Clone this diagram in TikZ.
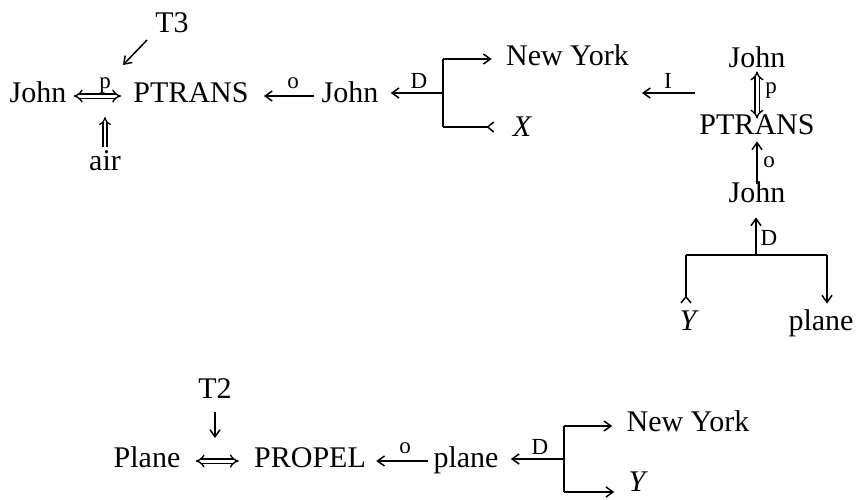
\documentclass[tikz,border=0pt]{standalone}
\usepackage{fontspec}
\setmainfont{Liberation Serif}
\usetikzlibrary{arrows.meta}
\begin{document}
\begin{tikzpicture}[x=0.5pt,y=-0.5pt,
  lbl/.style={font=\fontsize{15}{16}\selectfont, inner sep=0pt, anchor=base, text height=0.7em, text depth=0.1em},
  sm/.style={font=\fontsize{11.5}{12}\selectfont, inner sep=0pt, anchor=base},
  arr/.style={line width=0.75pt, -{Straight Barb[length=3.5pt,width=5pt]}},
  rarr/.style={line width=0.75pt, -{Straight Barb[length=3pt,width=5pt,reversed]}},
  ln/.style={line width=0.75pt},
  dbl/.style={line width=0.7pt, double distance=1.5pt, {Implies}-{Implies}},
  sdbl/.style={line width=0.6pt, double distance=1.4pt, -{Implies}},
]
\useasboundingbox (0,0) rectangle (858,499);

% ---------- top-left structure ----------
\node[lbl] (T3) at (172,32) {T3};
\node[lbl] (John1) at (38,102) {John};
\node[lbl] (PT1) at (191,102) {PTRANS};
\node[lbl] (air) at (105,170) {air};
\node[sm] (p1) at (105,88) {p};
\coordinate (t3s) at (147,40);
\coordinate (t3e) at (123,65);
\coordinate (pin) at (105,117);
\draw[arr] (t3s) -- (t3e);
\draw[dbl, shorten <=3.5pt, shorten >=6pt] (John1.east) -- (PT1.west);
\draw[sdbl, shorten <=4.5pt] (air.north) -- (pin);

\node[lbl] (John2) at (350,102) {John};
\node[sm] (o1) at (293,88) {o};
\draw[arr, shorten <=3.5pt, shorten >=7.5pt] (John2.west) -- (PT1.east);

\coordinate (br1) at (443,93);
\coordinate (br1t) at (443,59);
\coordinate (br1b) at (443,127);
\node[sm] (D1) at (419,88) {D};
\node[lbl] (NY1) at (567.5,65) {New York};
\node[lbl] (X1) at (522,136) {\itshape X};
\draw[arr, shorten >=6pt] (br1) -- (br1 -| John2.east);
\draw[ln] (br1t) -- (br1b);
\draw[arr, shorten >=7pt] (br1t) -- (br1t -| NY1.west);
\draw[rarr, shorten >=9pt] (br1b) -- (br1b -| X1.west);

% ---------- I link ----------
\coordinate (Is) at (695,93);
\coordinate (Ie) at (642,93);
\node[sm] (I1) at (668,88) {I};
\draw[arr] (Is) -- (Ie);

% ---------- right column ----------
\node[lbl] (John3) at (757,67) {John};
\node[lbl] (PT2) at (757,134) {PTRANS};
\node[lbl] (John4) at (757,202) {John};
\node[sm] (p2) at (771,93) {p};
\node[sm] (o2) at (769,167) {o};
\node[sm] (D2) at (769,245) {D};
\draw[dbl, shorten <=1pt, shorten >=0.5pt] (John3.south) -- (PT2.north);
\draw[arr, shorten <=2pt, shorten >=2.5pt] (John4.north) -- (PT2.south);

\coordinate (br2) at (756,255);
\coordinate (brL) at (686,255);
\coordinate (brR) at (827,255);
\node[lbl] (Y1) at (688,330) {\itshape Y};
\node[lbl] (plane1) at (821,330) {plane};
\draw[arr, shorten >=6.5pt] (br2) -- (br2 |- John4.south);
\draw[ln] (brL) -- (brR);
\draw[rarr, shorten >=6pt] (brL) -- (brL |- Y1.north);
\draw[arr, shorten >=6pt] (brR) -- (brR |- plane1.north);

% ---------- bottom structure ----------
\node[lbl] (T2) at (215,398) {T2};
\node[lbl] (Plane) at (147,467) {Plane};
\node[lbl] (PROPEL) at (310,467) {PROPEL};
\node[lbl] (plane2) at (466,467) {plane};
\node[sm] (o3) at (405,453) {o};
\node[sm] (D3) at (540,454) {D};
\coordinate (t2e) at (215,438);
\draw[arr, shorten <=6pt] (T2.south) -- (t2e);
\draw[dbl, shorten <=7.5pt, shorten >=7.5pt] (Plane.east) -- (PROPEL.west);
\draw[arr, shorten <=2.5pt, shorten >=5pt] (plane2.west) -- (PROPEL.east);

\coordinate (br3) at (564,459);
\coordinate (br3t) at (564,426);
\coordinate (br3b) at (564,492);
\node[lbl] (NY2) at (688,431) {New York};
\node[lbl] (Y2) at (637,491) {\itshape Y};
\draw[arr, shorten >=6pt] (br3) -- (br3 -| plane2.east);
\draw[ln] (br3t) -- (br3b);
\draw[arr, shorten >=7pt] (br3t) -- (br3t -| NY2.west);
\draw[arr, shorten >=7pt] (br3b) -- (br3b -| Y2.west);
\end{tikzpicture}
\end{document}
